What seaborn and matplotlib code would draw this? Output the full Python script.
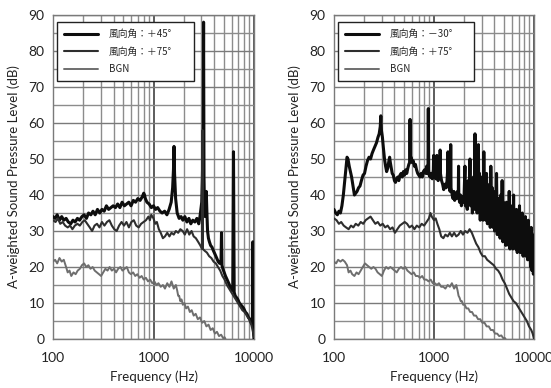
import matplotlib
matplotlib.use("Agg")
import matplotlib.pyplot as plt
import seaborn as sns
import pandas as pd
from matplotlib.ticker import FixedLocator, NullFormatter, MultipleLocator

sns.set_style("white")
plt.rcParams['font.family'] = ['Lato', 'DejaVu Sans']

# ---------------- data ----------------
left_labels = ["風向角：＋45°", "風向角：＋75°", "BGN"]
right_labels = ["風向角：－30°", "風向角：＋75°", "BGN"]

L45_f = [100,105,110,116,122,128,135,142,150,158,166,175,184,194,204,215,226,238,250,263,277,292,307,323,340,358,377,397,418,440,463,487,513,540,568,598,630,663,698,735,773,800,814,830,860,905,952,1000,1050,1100,1160,1220,1290,1360,1430,1500,1550,1580,1600,1620,1660,1720,1800,1880,1960,2050,2150,2250,2350,2460,2580,2700,2820,2900,2960,3020,3060,3090,3110,3150,3180,3210,3260,3300,3350,3400,3450,3520,3600,3700,3820,3950,4100,4250,4400,4550,4700,4750,4800,4900,5050,5200,5400,5600,5800,6000,6150,6250,6350,6500,6700,6900,7150,7400,7650,7900,8200,8500,8800,9100,9400,9650,9750,9820,9900,10000]
L45_db = [34,33.5,34.5,33,34,33,33.5,32.5,32,33,32.5,33.5,33,34,34.5,33.5,35,34.5,35.5,34.5,36,35,36,35.5,37,36,36.5,37,36.5,37.5,36.5,38,37,37.5,38,37,38.5,38,39,38.5,39.5,40.5,40,39,38,37.5,36.5,37,36,36.5,35.5,35,35.5,34.5,36,38,42,47,53.5,46,39,35,33.5,34,33,34,32.5,33.5,32,33,32.5,33.5,32,34,36,38,44,50,40,88,45,38,34,38,41,35,30,28,27,26,25.5,24.5,23.5,22.5,21.5,21,22,29.5,20.5,19.5,18.5,17.5,16.5,15.5,14.5,13.5,14,52,13,12,11.5,11,10,9.5,9,8.5,7.5,7,6,5.5,4.5,4,27,3,1.5,0]

L75_f = [100,106,112,118,125,132,140,148,156,165,175,185,196,207,219,232,245,259,274,290,307,325,344,364,385,407,430,455,481,509,538,569,602,637,673,712,753,796,842,890,920,950,1000,1040,1080,1130,1180,1240,1300,1370,1440,1510,1590,1670,1760,1850,1950,2050,2160,2270,2390,2510,2640,2780,2920,3040,3075,3100,3230,3400,3580,3760,3960,4170,4380,4610,4850,5100,5370,5650,5940,6250,6580,6920,7280,7660,8060,8480,8920,9390,9700,10000]
L75_db = [33,32.5,33.5,32,32.5,31.5,31,31.5,30.5,31.5,32,31.5,32.5,33,32,31,30,31.5,32,31,32.5,31.5,32.5,33,31.5,30.5,30,31.5,32.5,31.5,32.5,31,32.5,33,31.5,31,32,32.5,33,34,33,34.5,33.5,32,32.5,30.5,29.5,28,28.5,29.5,28.5,29.5,29,30,29.5,30.5,30,29,30.5,29,30,28.5,28,27,26,25,58,25,24.5,24,23,22.5,21.5,21,20,19,17.5,16.5,15,14,13,12,11,10,9,8,7.5,6.5,5.5,4,2.5,0.5]

LB_f = [100,105,110,116,122,128,135,140,146,152,160,168,176,185,194,204,214,225,236,248,260,273,287,301,316,332,349,366,385,404,424,445,468,491,516,542,569,597,627,658,691,726,762,800,840,882,926,972,1020,1070,1120,1180,1240,1300,1370,1440,1510,1590,1670,1720,1760,1800,1850,1900,1960,2030,2110,2200,2300,2400,2510,2630,2760,2900,3050,3200,3360,3530,3700,3890,4080,4280,4490,4710,4940,5100,5200]
LB_db = [21.5,22,21,22.5,21.5,22,20,18.5,19,17.5,18.5,18,19,19.5,20.5,21,20,20.5,19.5,20,19,18.5,18,17.5,18.5,19.5,19,20,19,19.5,18.5,19.5,20,19,19.5,20,18.5,18,18.5,17.5,18,17,17.5,16.5,17,16,16.5,15.5,16,15,15.5,14.5,15,14,15.5,14.5,16,14,15,13.5,12,12,10.5,11,9.5,10,8.5,9,7.5,8,6.5,7,5.5,6,4.5,5,3.5,4,2.5,3,1.5,2,0.8,1.2,0.2,0.5,0]

R30_f = [100,104,108,112,116,120,124,128,132,135,138,142,146,150,155,160,165,170,176,182,188,195,202,209,216,224,232,240,248,257,266,275,283,290,294,298,305,312,320,328,336,345,354,360,366,374,382,392,402,412,423,434,445,457,469,481,494,507,520,534,548,560,570,576,582,590,605,620,636,652,669,687,705,724,743,763,783,804,825,845,860,870,877,884,895,915,935,960,985,992,1000,1020,1045,1060,1068,1075,1100,1130,1145,1152,1160,1190,1220,1250,1285,1320,1350,1370,1380,1395,1420,1450,1460,1470,1480,1520,1550,1580,1610,1640,1680,1720,1750,1760,1770,1800,1840,1880,1920,1960,2000,2040,2060,2100,2150,2200,2250,2290,2320,2370,2420,2480,2530,2570,2600,2650,2700,2780,2810,2850,2900,2950,3000,3050,3100,3150,3200,3250,3300,3350,3420,3480,3540,3600,3650,3700,3760,3830,3900,3960,4030,4100,4170,4220,4290,4360,4430,4500,4580,4650,4730,4800,4880,4960,5050,5130,5220,5300,5400,5480,5570,5650,5750,5850,5950,6050,6150,6250,6350,6460,6570,6680,6800,6920,7040,7160,7280,7400,7530,7650,7780,7900,8050,8200,8340,8480,8620,8770,8920,9070,9230,9380,9540,9700,9850,10000]
R30_db = [36,35,34.5,35.5,35,37,40,44,48,50.5,50,48,46.5,45,42.5,40,40.5,41,42,42.5,44,45.5,46,48,49.5,50.5,50,51.5,52.5,53.5,54.5,56,57,59,62,58,56,53,50,48,46.5,47.5,49.5,50.5,49,47.5,46,45.5,44,43.5,44.5,45,44,45.5,46,45,46.5,45.5,47,46,47.5,48.5,49,61,50,50.5,49,49.5,48,48.5,47,46,45.5,45,46,45,46.5,47,46,48,46,46.5,64,47,45.5,45,46,44.5,47,51,46,45,44.5,46,51,45,44,45.5,47,52.5,46,44,43,41.5,43,42,44,47,52,43,42,41,44,54,42,40,39,41,38.5,40.5,39,41,40,48,40,38,40,37,39.5,38,40,48,37,41,36,44,38,50,37,42,35,45,36,57,37,44,35,54,36,46,33,45,34,44,33,52,35,43,33,46,32,41,33,43,31,48,32,42,31,40,30,41,31,46,29,39,30,38,28,40,29,44,27,38,28,37,26,38,27,36,26,41,25,36,26,37,25,40,26,35,25,36,24,34,25,37,24,34,25,35,23,33,24,34,23,32,22,33,22,30,20,31,19,29,18,20]

R75_f = [100,106,112,118,125,132,140,148,156,165,175,185,196,207,219,232,245,259,274,290,307,325,344,364,385,407,430,455,481,509,538,569,602,637,673,712,753,796,842,890,920,950,1000,1040,1080,1130,1180,1240,1300,1370,1440,1510,1590,1670,1760,1850,1950,2050,2160,2270,2390,2510,2640,2780,2920,3070,3230,3400,3580,3760,3960,4170,4380,4610,4850,5100,5370,5650,5940,6250,6580,6920,7280,7660,8060,8480,8920,9390,9700,10000]
R75_db = [33.5,33,32,32.5,31.5,31,30.5,31.5,31,32,31.5,32.5,32,33,33.5,34,33,32,32.5,31.5,32,31,31.5,30.5,31,29.5,30.5,31.5,32,32.5,32,31,31.5,30.5,31.5,31,32,31.5,32.5,33.5,35,34,33,33.5,32,30.5,28.5,28,29,28.5,29.5,28.5,29.5,28.5,29,30,29,30,29.5,30.5,29.5,28,26.5,25.5,24,23,23,22,21.5,21,20.5,19.5,19,18,16.5,15.5,14,12.5,11.5,10.5,10,9,8,7,6,5,3.5,2.5,1.5,0]

RB_f = [100,105,110,116,122,128,135,140,146,152,160,168,176,185,194,204,214,225,236,248,260,273,287,301,316,332,349,366,385,404,424,445,468,491,516,542,569,597,627,658,691,726,762,800,840,882,926,972,1020,1070,1120,1180,1240,1300,1370,1440,1510,1590,1670,1720,1760,1800,1850,1900,1960,2030,2110,2200,2300,2400,2510,2630,2760,2900,3050,3200,3360,3530,3700,3890,4080,4280,4490,4710,4940,5100,5200]
RB_db = [21.5,21,22,21.5,22,21.5,20.5,18.5,19,18,17.5,18.5,18,19,20,21,20.5,20,19.5,20,19.5,18.5,18,17.5,19,20,19.5,20,19.5,19,18.5,19.5,20,19.5,20,19,18.5,18,18.5,17.5,17.5,17,17.5,16.5,16.5,16,16.5,15.5,15.5,15,15.5,14.5,14.5,14,15,14.5,15.5,14,15,13.5,12,11.5,10.5,10.5,9.5,9.5,8.5,8.5,7.5,7.5,6.5,6.5,5.5,5.5,4.5,4.5,3.5,3.5,2.5,2.5,1.5,1.5,0.8,1,0.2,0.3,0]

# ---------------- plotting ----------------
fig = plt.figure(figsize=(5.51, 3.88), dpi=100)
axL = fig.add_axes([53/551, 1-339/388, 201/551, 324/388])
axR = fig.add_axes([334/551, 1-339/388, 200/551, 324/388])

styles = [dict(color="#0d0d0d", lw=2.2), dict(color="#2e2e2e", lw=1.5), dict(color="#6e6e6e", lw=1.4)]

def draw(ax, series, labels):
    for (f, db), lab, st in zip(series, labels, styles):
        df = pd.DataFrame({"Frequency": f, "Level": db})
        sns.lineplot(data=df, x="Frequency", y="Level", ax=ax, estimator=None, sort=False,
                     label=lab, color=st["color"], lw=st["lw"], zorder=3)
    ax.set_xscale("log")
    ax.set_xlim(100, 10000)
    ax.set_ylim(0, 90)
    ax.xaxis.set_major_locator(FixedLocator([100, 1000, 10000]))
    ax.set_xticklabels(["100", "1000", "10000"])
    ax.xaxis.set_minor_locator(FixedLocator([m * d for d in (100, 1000) for m in range(2, 10)]))
    ax.xaxis.set_minor_formatter(NullFormatter())
    ax.yaxis.set_major_locator(MultipleLocator(10))
    ax.yaxis.set_minor_locator(MultipleLocator(5))
    ax.grid(which="major", axis="y", color="#7a7a7a", lw=1.0)
    ax.grid(which="minor", axis="y", color="#8c8c8c", lw=1.0)
    ax.grid(which="major", axis="x", color="#303030", lw=1.1)
    ax.grid(which="minor", axis="x", color="#8c8c8c", lw=1.0)
    ax.set_axisbelow(True)
    ax.tick_params(which="both", length=0, labelsize=10, pad=6, colors="#222222")
    ax.tick_params(axis="x", pad=9)
    for s in ax.spines.values():
        s.set_color("#7a7a7a")
        s.set_linewidth(1.0)
    ax.set_xlabel("Frequency (Hz)", fontsize=9.5, color="#222222", labelpad=5)
    ax.set_ylabel("A-weighted Sound Pressure Level (dB)", fontsize=9.5, color="#222222", labelpad=6)
    leg = ax.legend(loc="upper left", bbox_to_anchor=(0.02, 0.978, 0.68, 0.0), mode="expand",
                    frameon=True, fancybox=False,
                    edgecolor="#222222", framealpha=1, handlelength=3.5, handletextpad=1.1,
                    labelspacing=0.8, borderpad=0.7, borderaxespad=0,
                    prop=dict(family=["Noto Sans CJK JP", "DejaVu Sans"], size=7))
    leg.get_frame().set_linewidth(1.0)

draw(axL, [(L45_f, L45_db), (L75_f, L75_db), (LB_f, LB_db)], left_labels)
draw(axR, [(R30_f, R30_db), (R75_f, R75_db), (RB_f, RB_db)], right_labels)

fig.savefig("out.png", dpi=100)
